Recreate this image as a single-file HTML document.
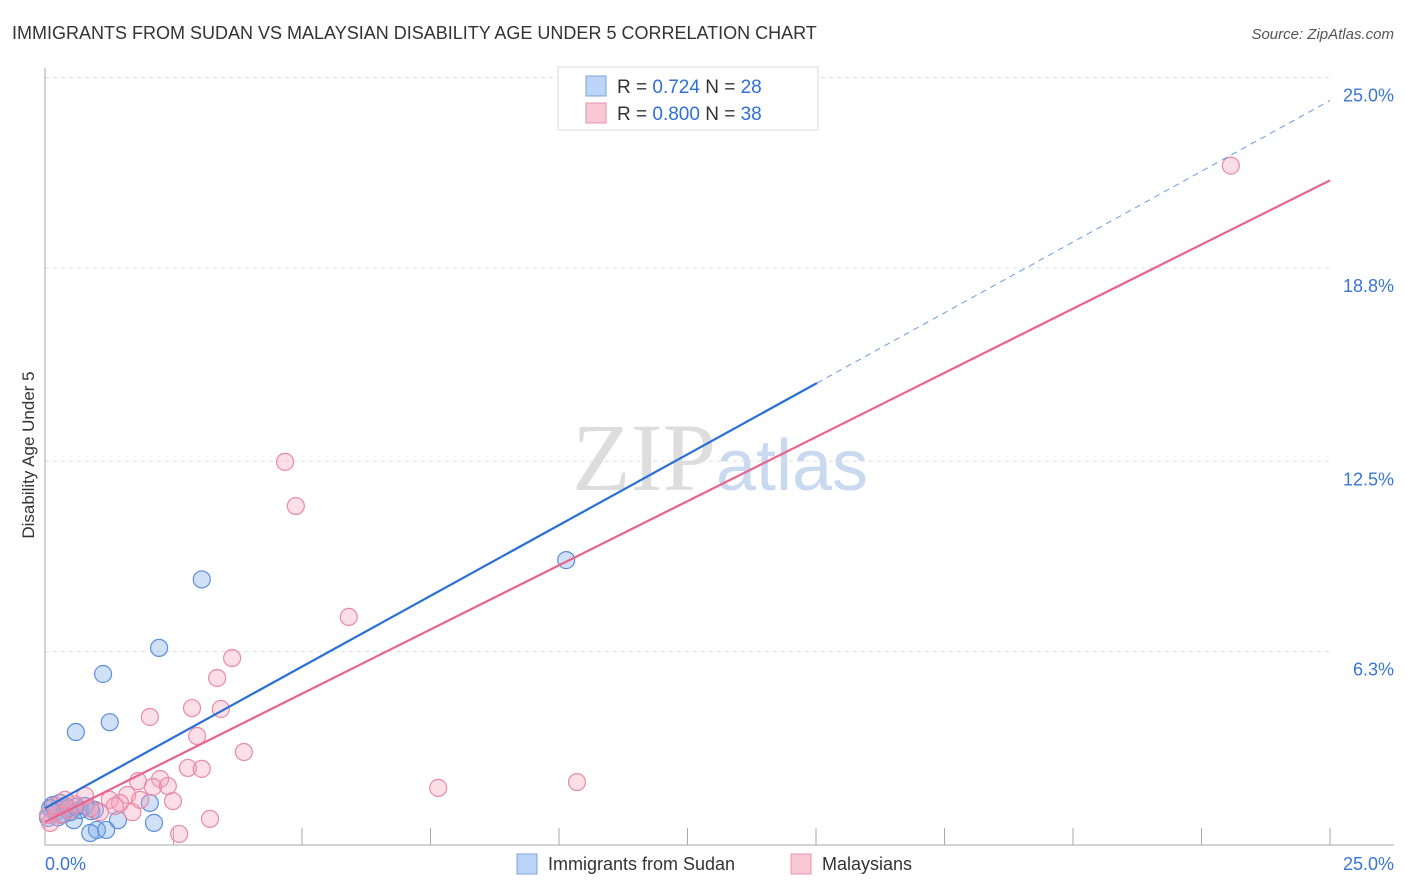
<!DOCTYPE html><html><head><meta charset="utf-8"><style>
body{margin:0;background:#fff;font-family:"Liberation Sans",sans-serif}
</style></head><body>
<svg width="1406" height="892" style="position:absolute;left:0;top:0">
<text x="12" y="39" font-size="18" fill="#333">IMMIGRANTS FROM SUDAN VS MALAYSIAN DISABILITY AGE UNDER 5 CORRELATION CHART</text>
<text x="1394" y="39" font-size="15" fill="#555" text-anchor="end" font-style="italic">Source: ZipAtlas.com</text>
<text x="720" y="490" font-size="96" fill="#ddd" text-anchor="middle" font-family="Liberation Serif">ZIP<tspan fill="#c9daf0" font-family="Liberation Sans" font-size="72">atlas</tspan></text>
<text x="34" y="455" font-size="17" fill="#333" text-anchor="middle" transform="rotate(-90 34 455)">Disability Age Under 5</text>
<g id="grid"></g><g id="pts"></g><g id="lines"></g>
<g>
<rect x="558" y="67" width="260" height="63" fill="#fff" stroke="#ddd"/>
<rect x="586" y="76" width="20" height="20" fill="#bcd4f5" stroke="#7aa6e0"/>
<rect x="586" y="103" width="20" height="20" fill="#f9c8d6" stroke="#e890ab"/>
<text x="617" y="93" font-size="19" fill="#333">R = <tspan fill="#2f6fd6">0.724</tspan>   N = <tspan fill="#2f6fd6">28</tspan></text>
<text x="617" y="120" font-size="19" fill="#333">R = <tspan fill="#2f6fd6">0.800</tspan>   N = <tspan fill="#2f6fd6">38</tspan></text>
</g>
<g>
<rect x="517" y="854" width="20" height="20" fill="#bcd4f5" stroke="#7aa6e0"/>
<text x="548" y="870" font-size="18" fill="#333">Immigrants from Sudan</text>
<rect x="791" y="854" width="20" height="20" fill="#f9c8d6" stroke="#e890ab"/>
<text x="822" y="870" font-size="18" fill="#333">Malaysians</text>
</g>
<text x="45" y="870" font-size="18" fill="#3a75d8">0.0%</text>
<text x="1394" y="870" font-size="18" fill="#3a75d8" text-anchor="end">25.0%</text>
</svg>
<script>
const yTicks=[25,18.8,12.5,6.3];
const yTickLabels=["25.0%","18.8%","12.5%","6.3%"];
const blueX=[3.05,2.22,1.13,1.26,0.6,10.14,2.04,2.12,1.42,1.01,0.88,1.19,0.56,0.29,0.1,0.2,0.39,0.68,0.78,0.49,0.97,0.06,0.15,0.35,0.45,0.9,0.25,0.6];
const blueY=[8.65,6.42,5.57,4.0,3.68,9.28,1.37,0.72,0.81,0.49,0.39,0.49,0.81,1.37,1.2,1.07,1.27,1.14,1.27,1.07,1.14,0.88,1.3,1.0,1.2,1.1,0.9,1.25];
const pinkX=[23.07,4.67,4.88,5.91,3.64,3.35,2.86,3.42,2.04,2.96,3.87,10.35,7.65,2.78,3.05,1.81,2.24,2.39,2.1,1.6,2.49,3.21,2.61,0.78,1.26,1.46,1.7,1.07,0.49,0.29,0.1,0.06,0.88,1.85,1.36,0.58,0.19,0.39];
const pinkY=[22.13,12.48,11.04,7.43,6.09,5.44,4.46,4.43,4.17,3.55,3.03,2.05,1.86,2.51,2.48,2.08,2.15,1.92,1.89,1.63,1.43,0.85,0.36,1.6,1.47,1.37,1.07,1.07,1.14,0.98,0.72,0.98,1.2,1.47,1.27,1.33,1.27,1.47];
const blueLine=[1.2,0.922];
const pinkLine=[0.75,0.836];
const X=v=>45+v*51.4, Y=v=>845-v*30.7;
const NS="http://www.w3.org/2000/svg";
function mk(t,a,p){const e=document.createElementNS(NS,t);for(const k in a)e.setAttribute(k,a[k]);document.getElementById(p).appendChild(e);return e;}
yTicks.forEach((t,i)=>{
 const l=mk('line',{x1:45,x2:1330,y1:Y(t),y2:Y(t),stroke:'#ddd','stroke-dasharray':'4,4'},'grid');
 
 
 const tx=mk('text',{x:1394,y:Y(t)+24,'font-size':18,fill:'#3a75d8','text-anchor':'end'},'grid');tx.textContent=yTickLabels[i];
 
 
});
const ax=mk('path',{d:'M45 68V845H1394',stroke:'#aaa',fill:'none'},'grid');


for(let i=1;i<=10;i++){const tk=mk('line',{x1:X(i*2.5),x2:X(i*2.5),y1:828,y2:845,stroke:'#aaa'},'grid');
 
 }
blueX.forEach((v,i)=>{const c=mk('circle',{cx:X(v),cy:Y(blueY[i]),r:8.5,fill:'rgba(120,165,230,0.35)',stroke:'#5b8fdc','stroke-width':1.2},'pts');
 
 });
pinkX.forEach((v,i)=>{const c=mk('circle',{cx:X(v),cy:Y(pinkY[i]),r:8.5,fill:'rgba(245,160,185,0.35)',stroke:'#e88aa8','stroke-width':1.2},'pts');
 
 });
const bx=15.02;
let l1=mk('line',{x1:X(0),y1:Y(blueLine[0]),x2:X(bx),y2:Y(blueLine[0]+blueLine[1]*bx),stroke:'#2a6fd6','stroke-width':2.2},'lines');


let l2=mk('line',{x1:X(bx),y1:Y(blueLine[0]+blueLine[1]*bx),x2:X(25),y2:Y(blueLine[0]+blueLine[1]*25),stroke:'#6a9be0','stroke-width':1,'stroke-dasharray':'6,5'},'lines');


let l3=mk('line',{x1:X(0),y1:Y(pinkLine[0]),x2:X(25),y2:Y(pinkLine[0]+pinkLine[1]*25),stroke:'#e8648e','stroke-width':2.2},'lines');


</script>
</body></html>
